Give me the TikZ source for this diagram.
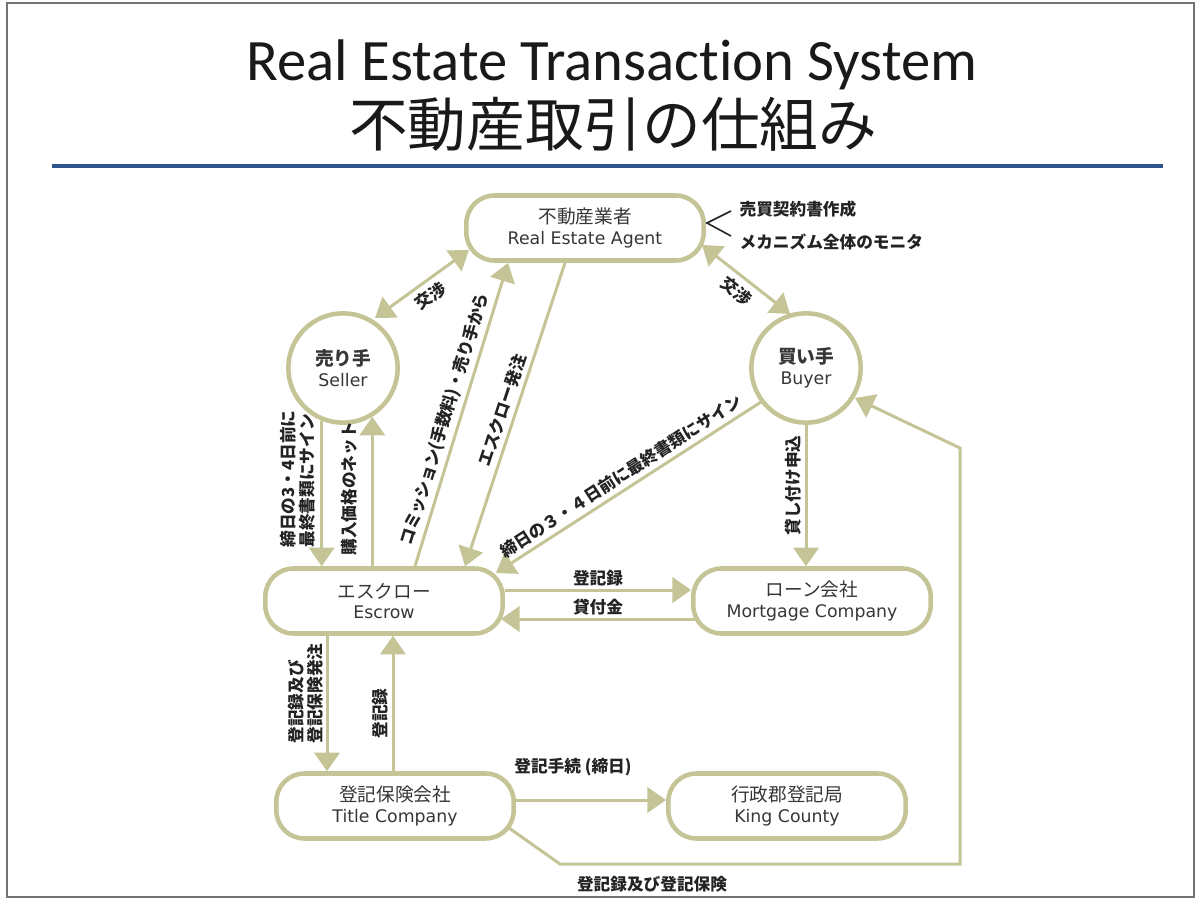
\documentclass[tikz,border=0pt]{standalone}
\usepackage{fontspec}
\setmainfont{DejaVu Sans}
\newfontfamily\jp{Noto Sans CJK JP}
\newfontfamily\en{DejaVu Sans}
\newfontfamily\ttl{Carlito}[Ligatures={NoCommon}]
\usetikzlibrary{arrows.meta,calc}
\definecolor{lineol}{RGB}{196,196,150}
\definecolor{txtgray}{RGB}{55,55,55}
\definecolor{lbltext}{RGB}{35,35,35}
\definecolor{blueline}{RGB}{46,84,140}
\newcommand\nt[2]{{\jp\fontsize{14}{15.5}\selectfont #1}\\{\en #2}}
\newcommand\ntb[2]{{\jp\bfseries\fontsize{14}{15.5}\selectfont #1}\\{\en #2}}
\begin{document}
\begin{tikzpicture}[x=0.75pt,y=-0.75pt,
  pill/.style={draw=lineol, line width=3.4pt, rounded corners=21pt, minimum width=178pt,
    minimum height=48.75pt, fill=white, align=center, text=txtgray,
    font=\fontsize{13}{15.5}\selectfont, inner sep=0pt},
  disc/.style={circle, draw=lineol, line width=3.4pt, minimum size=82pt, fill=white,
    align=center, text=txtgray, font=\fontsize{13}{15.5}\selectfont, inner sep=0pt},
  conn/.style={draw=lineol, line width=2.25pt},
  arr/.style={conn, -{Triangle[length=14pt,width=19pt]}},
  rarr/.style={conn, {Triangle[length=14pt,width=19pt]}-},
  darr/.style={conn, {Triangle[length=14pt,width=19pt]}-{Triangle[length=14pt,width=19pt]}},
  lbl/.style={font=\jp\bfseries\fontsize{12.5}{14}\selectfont, text=lbltext, inner sep=1pt},
  vlbl/.style={lbl, rotate=90, anchor=west, align=left},
]
\useasboundingbox (0,0) rectangle (1200,899);
\draw[black!55, line width=0.9pt] (7,3) rectangle (1194,897);

% title
\node[font=\ttl\fontsize{44}{44}\selectfont, anchor=base, text=black!90] (t1) at (612,80) {Real Estate Transaction System};
\node[font=\jp\fontsize{44}{44}\selectfont, text=black!90] (t2) at (613,124) {不動産取引の仕組み};
\coordinate (bl1) at (52,166);
\coordinate (bl2) at (1163,166);
\draw[blueline, line width=2.4pt] (bl1) -- (bl2);

% nodes
\node[pill] (agent) at (585,228) {\nt{不動産業者}{Real Estate Agent}};
\node[disc] (seller) at (343,368) {\ntb{売り手}{Seller}};
\node[disc] (buyer) at (806,368) {\ntb{買い手}{Buyer}};
\node[pill] (escrow) at (384,601) {\nt{エスクロー}{Escrow}};
\node[pill] (mortgage) at (812,601) {\nt{ローン会社}{Mortgage Company}};
\node[pill] (title) at (395,806) {\nt{登記保険会社}{Title Company}};
\node[pill] (king) at (787,806) {\nt{行政郡登記局}{King County}};

% negotiations
\draw[darr] ($(seller)+(32,-50)$) -- node[lbl, sloped, below=3pt] (l1) {交渉} ($(agent)+(-116,22)$);
\draw[darr] ($(agent)+(117,17)$) -- node[lbl, sloped, below=3pt] (l2) {交渉} ($(buyer)+(-16,-54)$);

% commission, escrow order
\draw[arr] ($(escrow.north)+(31,0)$) -- node[lbl, sloped, above=2pt, pos=0.47] (l3) {コミッション(手数料)・売り手から} ($(agent.south)+(-77,0)$);
\draw[rarr] ($(escrow.north)+(81,0)$) -- node[lbl, sloped, above=2pt] (l4) {エスクロー発注} ($(agent.south)+(-20,0)$);

% buyer -> escrow
\draw[rarr] ($(escrow)+(112,-28)$) -- node[lbl, sloped, above=2pt] (l5) {締日の３・４日前に最終書類にサイン} ($(buyer)+(-45,34)$);

% seller <-> escrow
\draw[arr] (seller.-112) -- (seller.-112 |- escrow.north);
\node[vlbl] (l6) at (298,549) {締日の3・4日前に\\最終書類にサイン};
\draw[arr] (seller.-59 |- escrow.north) -- (seller.-59);
\node[vlbl] (l7) at (349,557) {購入価格のネット};

% buyer -> mortgage
\draw[arr] (buyer.south) -- (buyer.south |- mortgage.north);
\node[vlbl] (l8) at (793,537) {貸し付け申込};

% escrow <-> mortgage
\draw[arr] ($(escrow.east)+(0,-11)$) -- node[lbl, above=1pt] (l9) {登記録} ($(mortgage.west)+(0,-11)$);
\draw[arr] ($(mortgage.west)+(4,18)$) -- node[lbl, above=1pt] (l10) {貸付金} ($(escrow.east)+(-4,18)$);

% escrow <-> title
\coordinate (e1) at ($(escrow.south)+(-57,0)$);
\draw[arr] (e1) -- (e1 |- title.north);
\node[vlbl] (l11) at (306,745) {登記録及び\\登記保険発注};
\coordinate (e2) at ($(title.north)+(-2,0)$);
\draw[arr] (e2) -- (e2 |- escrow.south);
\node[vlbl] (l12) at (380,740) {登記録};

% title -> king
\draw[arr] ($(title.east)+(0,-6)$) -- ($(king.west)+(0,-6)$);
\node[lbl] (l13) at (573,767) {登記手続 (締日)};

% title -> buyer
\coordinate (p1) at (560,864);
\coordinate (p2) at (960,864);
\coordinate (p3) at (960,448);
\draw[arr, line join=miter] ($(title)+(114,22)$) -- (p1) -- (p2) -- (p3) -- ($(buyer)+(49,30)$);
\node[lbl] (l14) at (652,884) {登記録及び登記保険};

% agent notes
\coordinate (b1) at (731,211);
\coordinate (b2) at (707,223);
\coordinate (b3) at (731,236);
\draw[black!85, line width=1.2pt] (b1) -- (b2) -- (b3);
\node[lbl, anchor=west] (a1) at (738,209) {売買契約書作成};
\node[lbl, anchor=west] (a2) at (738,242) {メカニズム全体のモニタ};
\end{tikzpicture}
\end{document}
